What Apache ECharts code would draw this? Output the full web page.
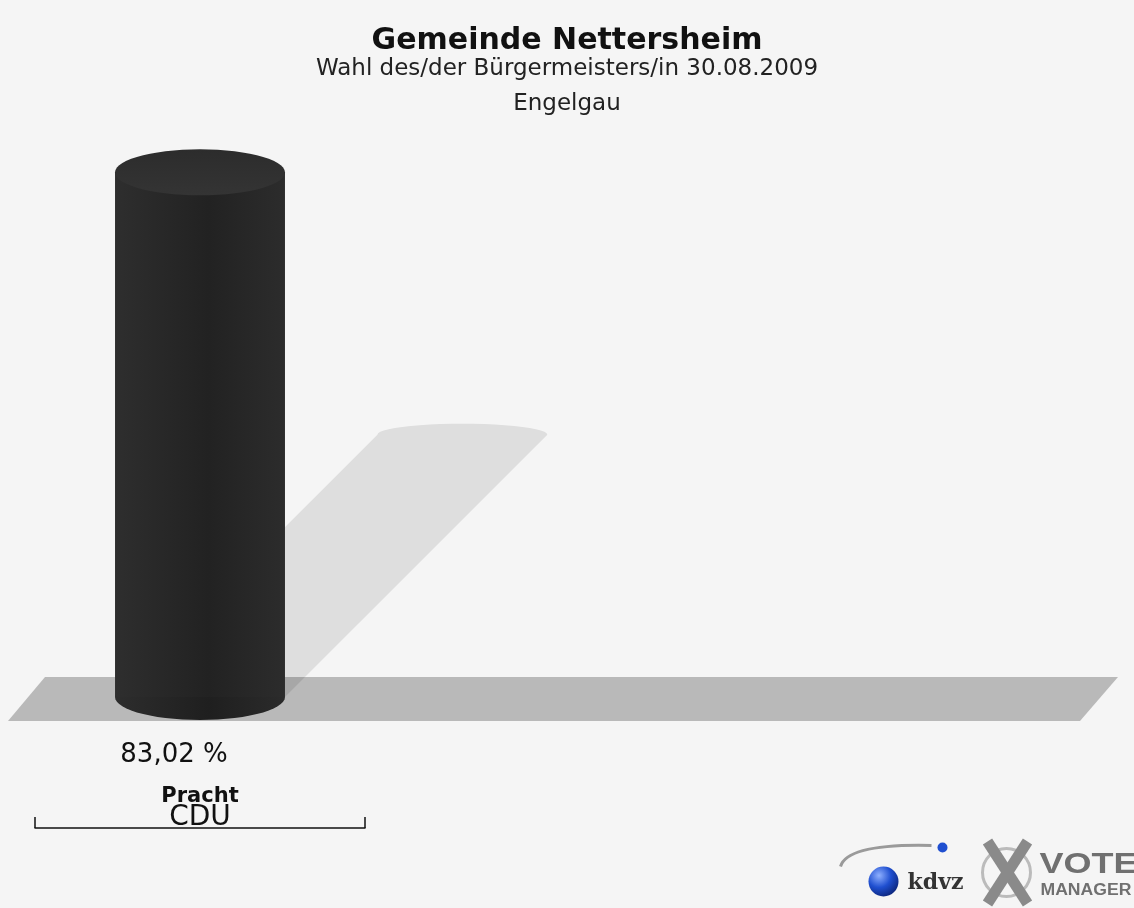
<!DOCTYPE html>
<html>
<head>
<meta charset="utf-8">
<title>Gemeinde Nettersheim</title>
<script src="https://cdn.jsdelivr.net/npm/echarts@6/dist/echarts.min.js"></script>
<style>
  html, body { margin: 0; padding: 0; background: #f5f5f5; }
  #chart { width: 1134px; height: 908px; }
</style>
</head>
<body>
<div id="chart"></div>
<script>
// Kandidaten / Parteien / Ergebnis in %
const categories = ['Pracht']
const parties = ['CDU']
const values = [83.02]

const FONT = '"DejaVu Sans", sans-serif'

// Punkte einer Ellipse (von a0 bis a1, Winkel in rad)
function ellipsePts(cx, cy, rx, ry, a0, a1, n) {
  const pts = []
  for (let k = 0; k <= n; k++) {
    const a = a0 + (a1 - a0) * k / n
    pts.push([cx + rx * Math.cos(a), cy + ry * Math.sin(a)])
  }
  return pts
}

function renderCylinder(params, api) {
  const idx = api.value(0)
  const val = api.value(1)
  const base = api.coord([idx, 0])
  const top = api.coord([idx, val])
  const bw = api.size([1, 0])[0] * 0.515
  const rx = bw / 2
  const ry = 23
  const cx = base[0]
  const L = cx - rx
  const R = cx + rx
  const by = base[1]
  const ty = top[1]
  const d = (by - ty) * 0.5
  const W = api.getWidth()
  const children = []

  // Boden
  if (params.dataIndex === 0) {
    children.push({
      type: 'polygon',
      shape: { points: [[45, by - 20], [W - 16, by - 20], [W - 54, by + 24], [8, by + 24]] },
      style: { fill: '#b9b9b9' }
    })
  }
  // Schatten
  const shadowPts = [[L, by], [R, by]].concat(
    ellipsePts(cx + d, by - d, rx, 11, 0, -Math.PI, 24)
  )
  children.push({
    type: 'polygon',
    shape: { points: shadowPts },
    style: { fill: 'rgba(0,0,0,0.095)' }
  })
  // Zylinder: Körper
  children.push({
    type: 'polygon',
    shape: { points: ellipsePts(cx, by, rx, ry, 0, Math.PI, 30) },
    style: {
      fill: new echarts.graphic.LinearGradient(0, 0, 1, 0, [
        { offset: 0, color: '#2d2d2d' },
        { offset: 0.55, color: '#1f1f1f' },
        { offset: 1, color: '#2b2b2b' }
      ])
    }
  })
  children.push({
    type: 'rect',
    shape: { x: L, y: ty, width: bw, height: by - ty },
    style: {
      fill: new echarts.graphic.LinearGradient(0, 0, 1, 0, [
        { offset: 0, color: '#2e2e2e' },
        { offset: 0.55, color: '#222222' },
        { offset: 1, color: '#2c2c2c' }
      ])
    }
  })
  // Deckel
  children.push({
    type: 'polygon',
    shape: { points: ellipsePts(cx, ty, rx, ry, 0, Math.PI * 2, 60) },
    style: {
      fill: new echarts.graphic.LinearGradient(0, 0, 0, 1, [
        { offset: 0, color: '#2c2c2c' },
        { offset: 1, color: '#343434' }
      ])
    }
  })
  // Prozentwert
  children.push({
    type: 'text',
    x: cx - 26,
    y: by + 58,
    style: {
      text: val.toFixed(2).replace('.', ',') + ' %',
      font: '26px ' + FONT,
      fill: '#111',
      align: 'center',
      verticalAlign: 'middle'
    }
  })
  return { type: 'group', children: children }
}

const chart = echarts.init(document.getElementById('chart'))

const option = {
  backgroundColor: '#f5f5f5',
  animation: false,
  title: [
    {
      text: 'Gemeinde Nettersheim',
      left: 'center', top: 26, padding: [0, 0, 0, 12],
      textStyle: { fontFamily: FONT, fontSize: 30, fontWeight: 'bold', color: '#111' }
    },
    {
      text: 'Wahl des/der Bürgermeisters/in 30.08.2009',
      left: 'center', top: 58, padding: [0, 0, 0, 8],
      textStyle: { fontFamily: FONT, fontSize: 23, fontWeight: 'normal', color: '#222' }
    },
    {
      text: 'Engelgau',
      left: 'center', top: 93, padding: [0, 0, 0, 24],
      textStyle: { fontFamily: FONT, fontSize: 23, fontWeight: 'normal', color: '#222' }
    }
  ],
  grid: {
    left: 35,
    width: 330,
    top: 65,
    bottom: 211
  },
  xAxis: [
    {
      type: 'category',
      data: categories,
      axisLine: { show: false },
      axisTick: { show: false },
      axisLabel: {
        margin: 89,
        fontFamily: FONT,
        fontSize: 21,
        fontWeight: 'bold',
        color: '#111'
      }
    },
    {
      type: 'category',
      data: parties,
      position: 'bottom',
      offset: 131,
      axisLine: { show: true, lineStyle: { color: '#111', width: 1.5 } },
      axisTick: { show: true, inside: true, length: 11, lineStyle: { color: '#111', width: 1.5 } },
      axisLabel: {
        inside: true,
        margin: -4,
        fontFamily: FONT,
        fontSize: 28,
        color: '#111'
      }
    }
  ],
  yAxis: {
    type: 'value',
    min: 0,
    max: 100,
    show: false
  },
  series: [
    {
      type: 'custom',
      xAxisIndex: 0,
      renderItem: renderCylinder,
      data: values.map((v, i) => [i, v]),
      encode: { x: 0, y: 1 }
    }
  ],
  // Logo unten rechts
  graphic: [
    {
      type: 'group',
      left: 838,
      top: 836,
      children: [
        {
          type: 'bezierCurve',
          shape: { x1: 5, y1: 31, cpx1: 12, cpy1: 8, x2: 96, y2: 10 },
          style: { stroke: '#9a9a9a', lineWidth: 3, fill: null }
        },
        {
          type: 'circle',
          shape: { cx: 48, cy: 46, r: 15 },
          style: {
            fill: new echarts.graphic.RadialGradient(0.35, 0.3, 0.8, [
              { offset: 0, color: '#8fb0ff' },
              { offset: 0.5, color: '#1f4fd0' },
              { offset: 1, color: '#0a2070' }
            ])
          }
        },
        {
          type: 'circle',
          shape: { cx: 107, cy: 12, r: 5 },
          style: { fill: '#1f4fd0' }
        },
        {
          type: 'text',
          x: 72, y: 48,
          style: { text: 'kdvz', font: 'bold 22px "DejaVu Serif", serif', fill: '#333', verticalAlign: 'middle' }
        },
        {
          type: 'circle',
          shape: { cx: 171, cy: 37, r: 24 },
          style: { fill: null, stroke: '#bbb', lineWidth: 3 }
        },
        {
          type: 'line',
          shape: { x1: 152, y1: 6, x2: 192, y2: 68 },
          style: { stroke: '#8a8a8a', lineWidth: 11 }
        },
        {
          type: 'line',
          shape: { x1: 192, y1: 6, x2: 152, y2: 68 },
          style: { stroke: '#8a8a8a', lineWidth: 11 }
        },
        {
          type: 'text',
          x: 204, y: 14,
          scaleX: 1.2,
          style: { text: 'VOTE', font: 'bold 30px "Liberation Sans", sans-serif', fill: '#707070' }
        },
        {
          type: 'text',
          x: 205, y: 47,
          scaleX: 1.1,
          style: { text: 'MANAGER', font: 'bold 16px "Liberation Sans", sans-serif', fill: '#707070' }
        }
      ]
    }
  ]
}

chart.setOption(option)
</script>
</body>
</html>
